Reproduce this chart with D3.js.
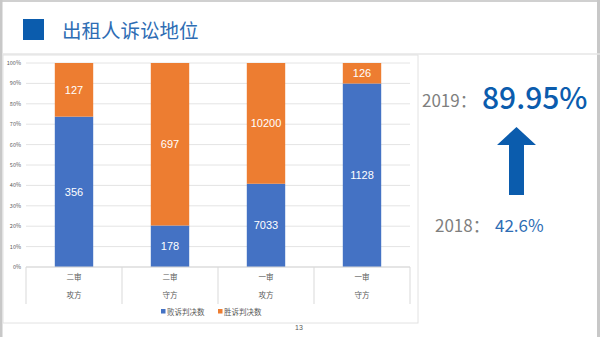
<!DOCTYPE html>
<html><head><meta charset="utf-8">
<script src="https://cdn.jsdelivr.net/npm/d3@7"></script>
<style>body{margin:0;background:#fff}svg{display:block}</style>
</head><body>
<svg id="c" width="600" height="337"></svg>
<script>
const categories = ["二审|攻方","二审|守方","一审|攻方","一审|守方"];
const loseCounts = [356, 178, 7033, 1128];
const winCounts = [127, 697, 10200, 126];
const seriesNames = ["败诉判决数","胜诉判决数"];
const yTicks = [0,0.1,0.2,0.3,0.4,0.5,0.6,0.7,0.8,0.9,1.0];

const svg = d3.select("#c");
const font = "'Noto Sans CJK SC','Noto Sans',sans-serif";
const blue = "#4472c4", orange = "#ed7d31";

// slide frame
svg.append("rect").attr("x",0).attr("y",0).attr("width",600).attr("height",2).attr("fill","#d0d0d0");
svg.append("rect").attr("x",0).attr("y",0).attr("width",2.5).attr("height",337).attr("fill","#c8c8c8");
svg.append("rect").attr("x",597).attr("y",0).attr("width",3).attr("height",337).attr("fill","#c8c8c8");

// title
svg.append("rect").attr("x",23).attr("y",19).attr("width",21).attr("height",21).attr("fill","#0b5cad");
svg.append("text").attr("x",62).attr("y",38).attr("font-family",font).attr("font-size",19.5)
  .attr("fill","#2e6db4").text("出租人诉讼地位");

// chart box
svg.append("line").attr("x1",2).attr("x2",600).attr("y1",54).attr("y2",54).attr("stroke","#e6e6e6").attr("stroke-width",1.5);
svg.append("rect").attr("x",3).attr("y",55).attr("width",415).attr("height",268)
  .attr("fill","#fff").attr("stroke","#e2e2e2").attr("stroke-width",1);

const x = d3.scaleBand().domain(categories).range([26,410]).paddingInner(0.6).paddingOuter(0.3);
const xOuter = d3.scaleBand().domain(categories).range([26,410]);
const y = d3.scaleLinear().domain([0,1]).range([267,63]);

// gridlines + y ticks
const gy = svg.append("g");
yTicks.forEach(t=>{
  gy.append("line").attr("x1",26).attr("x2",410).attr("y1",y(t)).attr("y2",y(t))
    .attr("stroke","#e4e4e4").attr("stroke-width",1);
  gy.append("text").attr("x",21).attr("y",y(t)+2).attr("text-anchor","end")
    .attr("font-family",font).attr("font-size",5.5).attr("fill","#595959")
    .text(d3.format(".0%")(t));
});

// stacked bars
const data = categories.map((c,i)=>({c, lose:loseCounts[i], win:winCounts[i]}));
data.forEach(d=>{
  const tot = d.lose + d.win;
  const pl = d.lose/tot;
  svg.append("rect").attr("x",x(d.c)).attr("width",x.bandwidth())
    .attr("y",y(pl)).attr("height",y(0)-y(pl)).attr("fill",blue);
  svg.append("rect").attr("x",x(d.c)).attr("width",x.bandwidth())
    .attr("y",y(1)).attr("height",y(pl)-y(1)).attr("fill",orange);
  const cx = x(d.c)+x.bandwidth()/2;
  svg.append("text").attr("x",cx).attr("y",y(pl/2)+4).attr("text-anchor","middle")
    .attr("font-family","'Liberation Sans',Arial,sans-serif").attr("font-size",11).attr("fill","#fff").text(d.lose);
  svg.append("text").attr("x",cx).attr("y",y((pl+1)/2)+4).attr("text-anchor","middle")
    .attr("font-family","'Liberation Sans',Arial,sans-serif").attr("font-size",11).attr("fill","#fff").text(d.win);
});

// category axis
const gx = svg.append("g");
categories.forEach((c,i)=>{
  const x0 = xOuter(c);
  gx.append("line").attr("x1",x0).attr("x2",x0).attr("y1",267).attr("y2",304).attr("stroke","#d9d9d9");
  const [a,b] = c.split("|");
  const cx = x0 + xOuter.bandwidth()/2;
  gx.append("text").attr("x",cx).attr("y",280).attr("text-anchor","middle").attr("font-family",font)
    .attr("font-size",7.5).attr("fill","#595959").text(a);
  gx.append("text").attr("x",cx).attr("y",298).attr("text-anchor","middle").attr("font-family",font)
    .attr("font-size",7.5).attr("fill","#595959").text(b);
});
gx.append("line").attr("x1",410).attr("x2",410).attr("y1",267).attr("y2",304).attr("stroke","#d9d9d9");
gx.append("line").attr("x1",26).attr("x2",410).attr("y1",267).attr("y2",267).attr("stroke","#d9d9d9");

// legend
const leg = [{n:seriesNames[0],c:blue,x:161},{n:seriesNames[1],c:orange,x:218}];
leg.forEach(l=>{
  svg.append("rect").attr("x",l.x).attr("y",309).attr("width",4.5).attr("height",4.5).attr("fill",l.c);
  svg.append("text").attr("x",l.x+6).attr("y",314.5).attr("font-family",font).attr("font-size",7.5)
    .attr("fill","#595959").text(l.n);
});

// page number
svg.append("text").attr("x",299).attr("y",330).attr("text-anchor","middle").attr("font-family","'Liberation Sans',Arial,sans-serif")
  .attr("font-size",7).attr("fill","#595959").text("13");

// right annotation
svg.append("text").attr("x",422).attr("y",107).attr("font-family",font).attr("font-size",17)
  .attr("fill","#7f7f7f").text("2019：");
svg.append("text").attr("x",482).attr("y",109).attr("font-family",font).attr("font-size",30).attr("font-weight",500)
  .attr("fill","#0b5cad").text("89.95%");
svg.append("path").attr("d","M516.5,127 L536,145 L524,145 L524,195 L509,195 L509,145 L497,145 Z").attr("fill","#0b5cad");
svg.append("text").attr("x",435).attr("y",232).attr("font-family",font).attr("font-size",17)
  .attr("fill","#7f7f7f").text("2018：");
svg.append("text").attr("x",495).attr("y",232).attr("font-family",font).attr("font-size",17)
  .attr("fill","#2e6db4").text("42.6%");
</script>
</body></html>
